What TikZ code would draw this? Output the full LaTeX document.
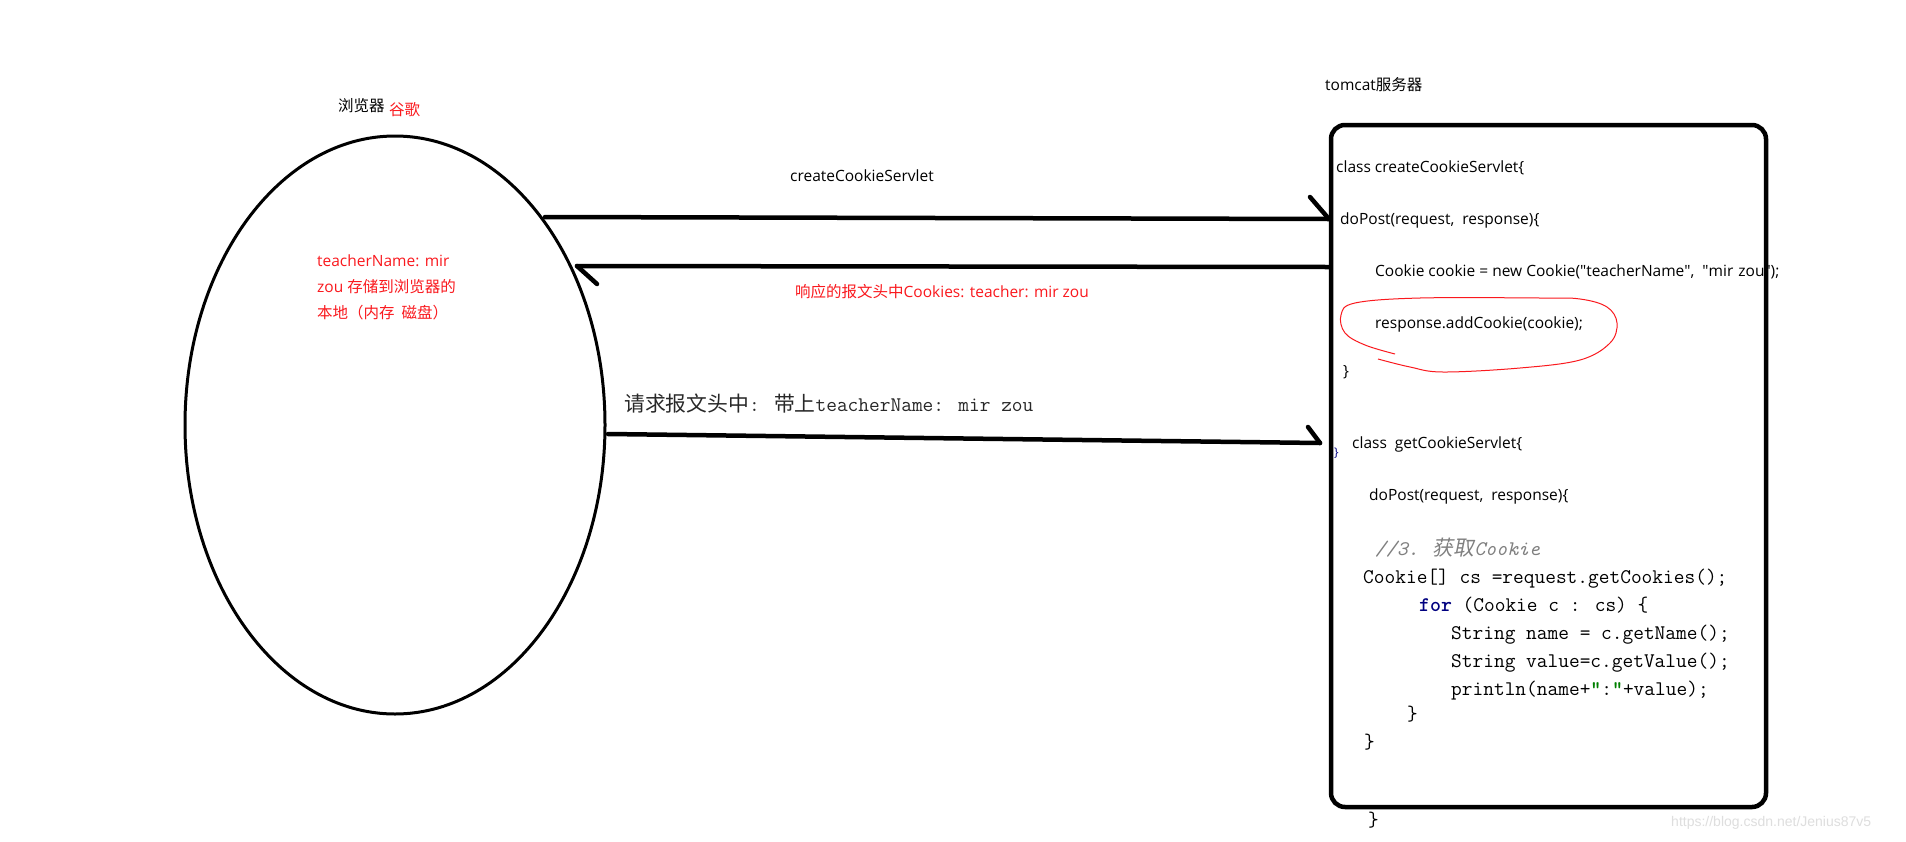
\documentclass[tikz,border=0pt]{standalone}
\usepackage{fontspec}
\setmainfont{Open Sans}
\newfontfamily\cjk{Noto Sans CJK SC}
\newfontfamily\cjkit[FakeSlant=0.2]{Noto Sans CJK SC}
\newfontfamily\wmfont{Liberation Sans}
\usetikzlibrary{shapes.geometric}
\definecolor{myred}{RGB}{250,25,30}
\definecolor{kwblue}{RGB}{0,0,128}
\definecolor{strgreen}{RGB}{0,128,0}
\definecolor{cmtgray}{RGB}{128,128,128}
\definecolor{wmgray}{RGB}{222,222,222}
\definecolor{darktxt}{RGB}{40,40,40}
\tikzset{
  sans/.style={font=\fontsize{15.5pt}{18pt}\selectfont, inner sep=0pt, anchor=base west},
  redtxt/.style={sans, text=myred},
  code/.style={font=\ttfamily\fontsize{20.8pt}{24pt}\selectfont, inner sep=0pt, anchor=base west},
  conn/.style={line width=4.5pt, line cap=round},
  barb/.style={line width=4.5pt, line cap=round},
  browserstyle/.style={draw, ellipse, line width=3pt, minimum width=420pt, minimum height=578pt, inner sep=0pt},
  serverstyle/.style={draw, rounded corners=14pt, line width=4.5pt, minimum width=435pt, minimum height=682pt, inner sep=0pt},
  redloop/.style={draw=myred, line width=1pt},
}
\begin{document}
\begin{tikzpicture}[x=1pt,y=-1pt]
\useasboundingbox (0,0) rectangle (1906,841);
\fill[white] (0,0) rectangle (1906,841);

% browser
\node[browserstyle] (browser) at (395,425) {};

% titles
\node[sans] (tbrowser) at (338,111) {\cjk 浏览器};
\node[redtxt] (tchrome) at (389,115) {\cjk 谷歌};
\node[sans] (ttomcat) at (1325,90.7) {tomcat{\cjk 服务器}};

% text inside browser
\node[redtxt] (store1) at (317,266) {teacherName: mir};
\node[redtxt] (store2) at (317,292) {zou {\cjk 存储到浏览器的}};
\node[redtxt] (store3) at (317,318) {\cjk 本地（内存\ \ 磁盘）};

% connector labels
\node[sans] (lcreate) at (790,181) {createCookieServlet};
\node[redtxt] (lresp) at (795,297) {{\cjk 响应的报文头中}Cookies: teacher: mir zou};
\node[code, text=darktxt] (lreq) at (624,411) {{\cjk 请求报文头中}: {\cjk 带上}teacherName: mir zou};

% code in server box
\node[sans] (c1) at (1336,172) {class createCookieServlet\{};
\node[sans] (c2) at (1340,224) {doPost(request,\ \ response)\{};
\node[sans] (c3) at (1375,276) {Cookie cookie = new Cookie(\textquotedbl teacherName\textquotedbl,\ \ \textquotedbl mir\hspace{1pt} zou\textquotedbl);};
\node[sans] (c4) at (1375,328) {response.addCookie(cookie);};
\node[sans] (c5) at (1343,376) {\}};
\node[sans] (c6) at (1352,448) {class\ \ getCookieServlet\{};
\node[font=\fontsize{12pt}{14pt}\selectfont, inner sep=0pt, anchor=base west, text=kwblue] (c6b) at (1334,456) {\}};
\node[sans] (c7) at (1369,500) {doPost(request,\ \ response)\{};
\node[code, text=cmtgray] (c8) at (1375,555) {{\itshape //3.}\hspace{14pt}{\cjkit 获取}{\itshape Cookie}};
\node[code] (c9) at (1363,583) {Cookie[] cs =request.getCookies();};
\node[code] (c10) at (1419,611) {{\bfseries\color{kwblue}for} (Cookie c : cs) \{};
\node[code] (c11) at (1451,639) {String name = c.getName();};
\node[code] (c12) at (1451,667) {String value=c.getValue();};
\node[code] (c13) at (1451,695) {println(name+{\color{strgreen}\bfseries\textquotedbl}:{\color{strgreen}\bfseries\textquotedbl}+value);};
\node[code] (c14) at (1407,720) {\}};
\node[code] (c15) at (1364,748) {\}};
\node[code] (c16) at (1368,826) {\}};

% server box drawn over the text, as in the reference
\node[serverstyle] (server) at (1548.5,466) {};

% connectors
\coordinate (a1s) at (545,217);
\coordinate (a1e) at (1329,219);
\coordinate (a1b) at (1310,197);
\draw[conn] (a1s) -- (a1e);
\draw[barb] (a1e) -- (a1b);

\coordinate (a2s) at (1329,267);
\coordinate (a2e) at (577,266);
\coordinate (a2b) at (597,284);
\draw[conn] (a2s) -- (a2e);
\draw[barb] (a2e) -- (a2b);

\coordinate (a3s) at (608,434);
\coordinate (a3e) at (1320,443);
\coordinate (a3b) at (1308,427);
\draw[conn] (a3s) -- (a3e);
\draw[barb] (a3e) -- (a3b);

% red hand-drawn loop around addCookie
\draw[redloop] plot[smooth, tension=0.6] coordinates {(1378,359) (1410,367) (1443,372) (1520,368) (1580,360) (1610,343) (1617,323) (1607,307) (1580,299) (1540,298) (1420,298) (1355,303) (1341,315) (1345,333) (1365,345) (1395,354)};

% watermark
\node[font=\wmfont\fontsize{14pt}{16pt}\selectfont, text=wmgray, inner sep=0pt, anchor=base west] (wm) at (1671,826) {https://blog.csdn.net/Jenius87v5};
\end{tikzpicture}
\end{document}
